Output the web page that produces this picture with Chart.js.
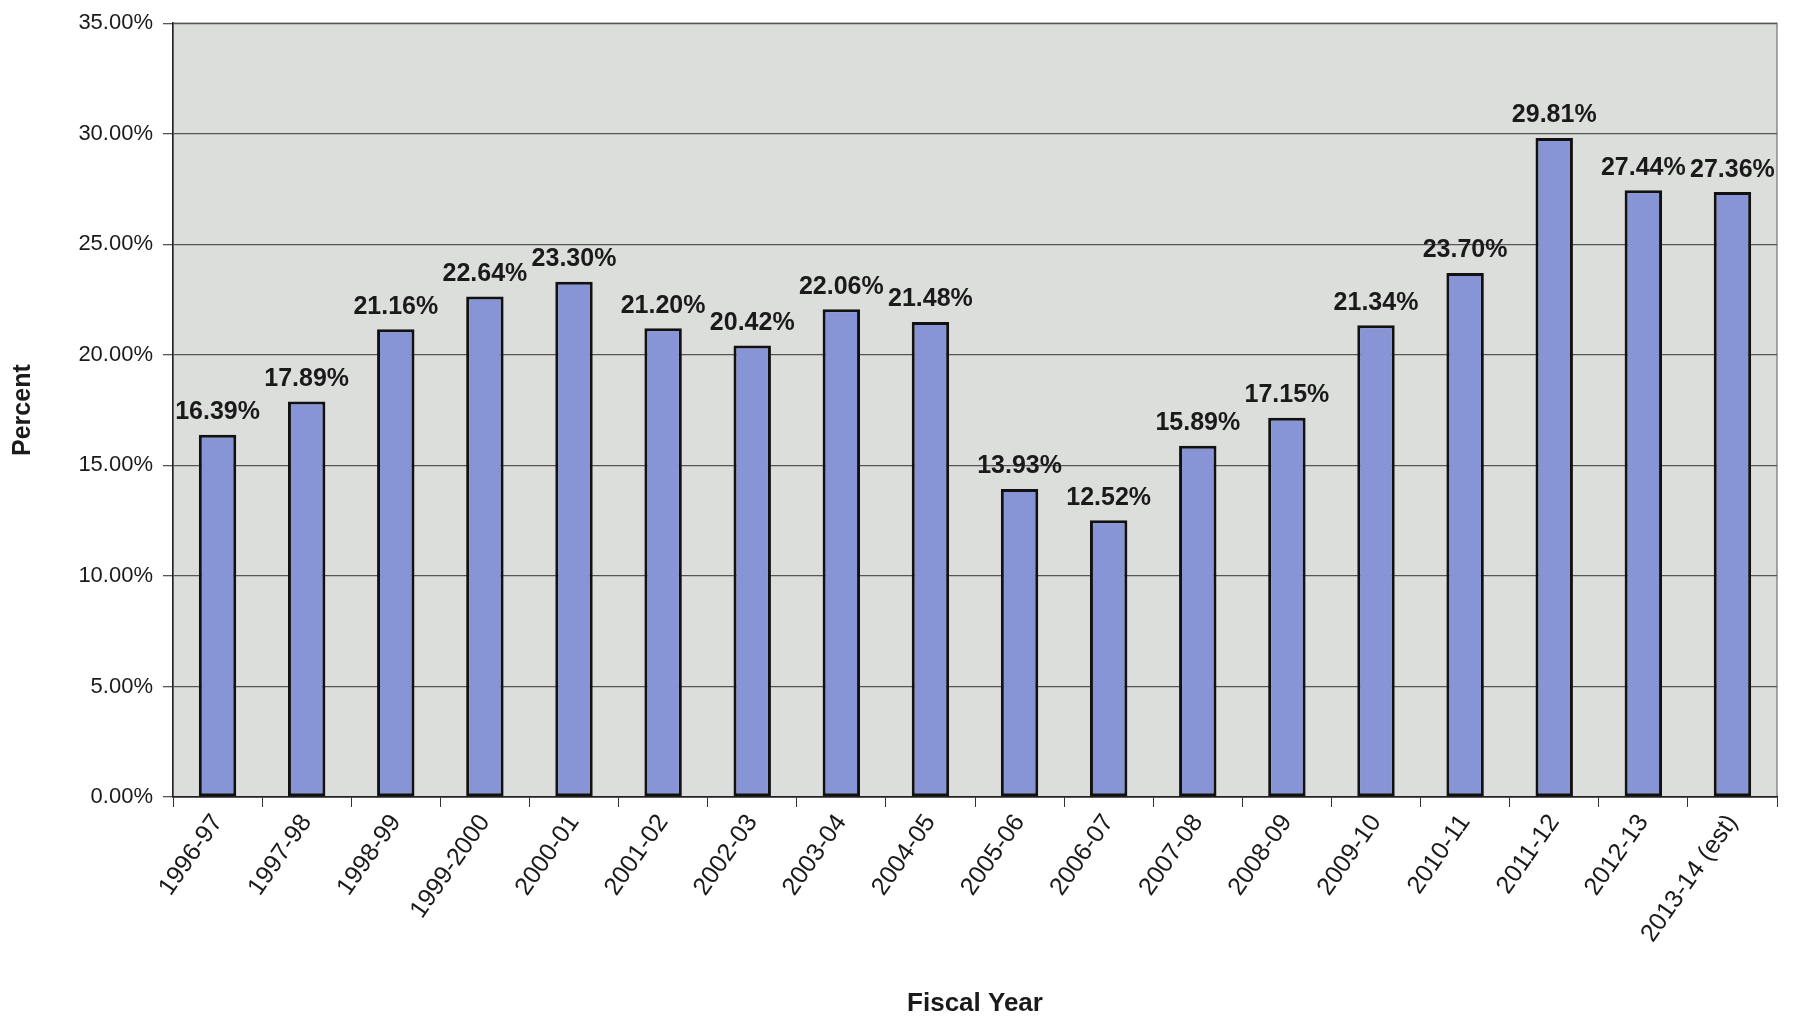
<!DOCTYPE html>
<html>
<head>
<meta charset="utf-8">
<script src="https://cdn.jsdelivr.net/npm/chart.js@4"></script>
<style>
  html, body { margin: 0; padding: 0; background: #fff; }
  #wrap { width: 1797px; height: 1021px; position: relative; }
</style>
</head>
<body>
<div id="wrap"><canvas id="myChart" width="1797" height="1021"></canvas></div>
<script>
const years = ["1996-97", "1997-98", "1998-99", "1999-2000", "2000-01", "2001-02", "2002-03",
  "2003-04", "2004-05", "2005-06", "2006-07", "2007-08", "2008-09", "2009-10", "2010-11",
  "2011-12", "2012-13", "2013-14 (est)"];

const percents = [16.39, 17.89, 21.16, 22.64, 23.30, 21.20, 20.42, 22.06, 21.48, 13.93,
  12.52, 15.89, 17.15, 21.34, 23.70, 29.81, 27.44, 27.36];

const yTicks = [0, 5, 10, 15, 20, 25, 30, 35];

const fontFam = "'Liberation Sans', Arial, sans-serif";

// labels over the bars
const barLabels = {
  id: "barLabels",
  afterDatasetsDraw(chart) {
    const ctx = chart.ctx;
    const meta = chart.getDatasetMeta(0);
    ctx.save();
    ctx.font = "bold 25px " + fontFam;
    ctx.fillStyle = "#1a1a1a";
    ctx.textAlign = "center";
    ctx.textBaseline = "bottom";
    meta.data.forEach((bar, i) => {
      ctx.fillText(percents[i].toFixed(2) + "%", bar.x, bar.y - 10);
    });
    ctx.restore();
  }
};

// grey plot area
const plotBg = {
  id: "plotBg",
  beforeDraw(chart) {
    const a = chart.chartArea;
    const ctx = chart.ctx;
    ctx.save();
    ctx.fillStyle = "#dcdedc";
    ctx.fillRect(a.left, a.top, a.right - a.left, a.bottom - a.top);
    ctx.strokeStyle = "#8a8a8a";
    ctx.lineWidth = 1.5;
    ctx.strokeRect(a.left, a.top, a.right - a.left, a.bottom - a.top);
    ctx.restore();
  }
};

const divChart = document.getElementById("myChart");

const myChart = new Chart(divChart, {
  type: "bar",
  data: {
    labels: years,
    datasets: [
      {
        label: "Percent",
        data: percents,
        backgroundColor: "#8794d6",
        borderColor: "#111",
        borderWidth: 3,
        borderSkipped: false,
        categoryPercentage: 0.42,
        barPercentage: 1,
      },
    ],
  },
  options: {
    responsive: false,
    animation: false,
    layout: { padding: { top: 20, right: 20, left: 0, bottom: 0 } },
    plugins: {
      legend: { display: false },
      tooltip: { enabled: false },
    },
    scales: {
      x: {
        afterFit(scale) { scale.height = 224; },
        grid: {
          offset: true,
          drawOnChartArea: false,
          drawTicks: true,
          tickLength: 10,
          color: "#333",
        },
        border: { color: "#222", width: 1.5 },
        ticks: {
          color: "#1a1a1a",
          font: { family: fontFam, size: 25 },
          minRotation: 55,
          maxRotation: 55,
          autoSkip: false,
          padding: 2,
        },
        title: {
          display: true,
          text: "Fiscal Year",
          color: "#1a1a1a",
          font: { family: fontFam, size: 26, weight: "bold" },
          padding: { top: 0, bottom: 2 },
        },
      },
      y: {
        min: 0,
        max: 35,
        afterFit(scale) { scale.width = 173; },
        afterBuildTicks(scale) {
          scale.ticks = yTicks.map((v) => ({ value: v }));
        },
        grid: {
          color: "#555",
          lineWidth: 1.3,
          drawTicks: true,
          tickLength: 10,
        },
        border: { color: "#222", width: 1.5 },
        ticks: {
          color: "#1a1a1a",
          font: { family: fontFam, size: 22 },
          padding: 10,
          callback: (v) => v.toFixed(2) + "%",
        },
        title: {
          display: true,
          text: "Percent",
          color: "#1a1a1a",
          font: { family: fontFam, size: 25, weight: "bold" },
          padding: { top: 8, bottom: 0 },
        },
      },
    },
  },
  plugins: [plotBg, barLabels],
});
</script>
</body>
</html>
